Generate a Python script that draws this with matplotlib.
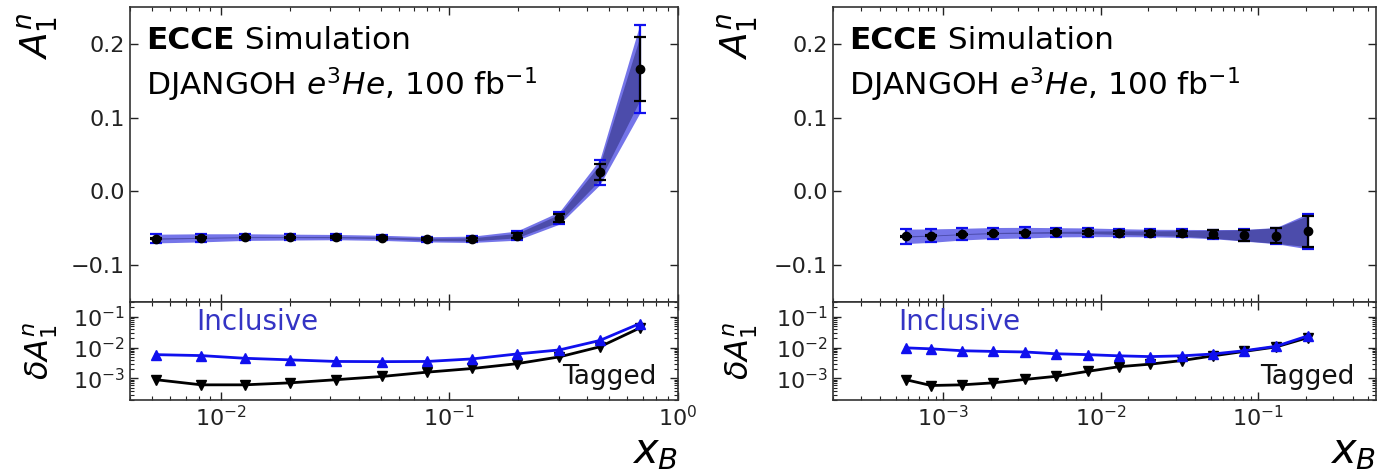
import numpy as np
import matplotlib
matplotlib.use("Agg")
import matplotlib.pyplot as plt
from matplotlib.ticker import FixedLocator, FuncFormatter, LogLocator, NullFormatter

# ---------------- data ----------------
# left panel (x_B bins)
x_left = [0.0052, 0.0082, 0.0127, 0.0201, 0.0319, 0.0508, 0.080, 0.126, 0.197, 0.303, 0.455, 0.68]
a1_left = [-0.064, -0.063, -0.062, -0.062, -0.062, -0.063, -0.065, -0.065, -0.060, -0.036, 0.026, 0.166]
dA_incl_left = [5.9e-3, 5.5e-3, 4.5e-3, 4.0e-3, 3.55e-3, 3.5e-3, 3.55e-3, 4.3e-3, 6.2e-3, 8.4e-3, 0.017, 0.060]
dA_tag_left = [9.1e-4, 6.2e-4, 6.2e-4, 7.2e-4, 9.1e-4, 1.16e-3, 1.6e-3, 2.1e-3, 3.0e-3, 5.0e-3, 0.0106, 0.043]

# right panel
x_right = [5.8e-4, 8.4e-4, 1.32e-3, 2.08e-3, 3.32e-3, 5.2e-3, 8.3e-3, 0.0131, 0.0206, 0.0329, 0.0518, 0.0815, 0.130, 0.207]
a1_right = [-0.061, -0.060, -0.058, -0.0565, -0.056, -0.0555, -0.0555, -0.056, -0.0565, -0.057, -0.058, -0.0595, -0.060, -0.054]
dA_incl_right = [9.8e-3, 9.1e-3, 7.9e-3, 7.5e-3, 7.2e-3, 6.3e-3, 5.9e-3, 5.4e-3, 5.1e-3, 5.4e-3, 6.2e-3, 7.9e-3, 0.011, 0.024]
dA_tag_right = [9.1e-4, 5.9e-4, 6.2e-4, 7.2e-4, 9.3e-4, 1.17e-3, 1.7e-3, 2.4e-3, 2.9e-3, 3.8e-3, 5.4e-3, 7.5e-3, 0.0105, 0.021]

panels = [
    dict(x=x_left, a=a1_left, di=dA_incl_left, dt=dA_tag_left, xlim=(0.004, 1.0)),
    dict(x=x_right, a=a1_right, di=dA_incl_right, dt=dA_tag_right, xlim=(2.0e-4, 0.56)),
]

title1 = "ECCE"
title2 = " Simulation"
subtitle = r"DJANGOH $e^3He$, 100 fb$^{-1}$"
y_ticks_top = [-0.1, 0.0, 0.1, 0.2]

# ---------------- figure ----------------
plt.rcParams['font.family'] = ['DejaVu Sans']
plt.rcParams['mathtext.fontset'] = 'dejavusans'
W, H = 1377, 471
fig = plt.figure(figsize=(W / 100, H / 100), dpi=100)

def frac(x0, y0, x1, y1):
    return [x0 / W, 1 - y1 / H, (x1 - x0) / W, (y1 - y0) / H]

boxes = [
    (frac(130, 7, 678, 302), frac(130, 302, 678, 400)),
    (frac(833, 7, 1376, 302), frac(833, 302, 1376, 400)),
]

blue = '#1010ee'
band_blue = '#3a3ae0'
text_blue = '#3434c4'
tick_fs = 16
fs_title = 22.5

def fmt_top(v, pos):
    return ('%.1f' % v).replace('-', '\u2212')

for p, (bt, bb) in zip(panels, boxes):
    ax = fig.add_axes(bt)
    axb = fig.add_axes(bb, sharex=ax)
    x = np.array(p['x']); a = np.array(p['a'])
    di = np.array(p['di']); dt = np.array(p['dt'])

    # bands
    ax.fill_between(x, a - di, a + di, color=band_blue, alpha=0.7, lw=0, zorder=1)
    ax.fill_between(x, a - dt, a + dt, color='#1a1a60', alpha=0.45, lw=0, zorder=2)
    # error bars
    ax.errorbar(x, a, yerr=di, fmt='none', ecolor=blue, elinewidth=1.6, capsize=4, capthick=1.6, zorder=3)
    ax.errorbar(x, a, yerr=dt, fmt='o', color='black', ms=6, ecolor='black', elinewidth=1.6,
                capsize=4, capthick=1.6, zorder=4)

    ax.set_xscale('log')
    ax.set_xlim(*p['xlim'])
    ax.set_ylim(-0.15, 0.25)
    ax.yaxis.set_major_locator(FixedLocator(y_ticks_top))
    ax.yaxis.set_major_formatter(FuncFormatter(fmt_top))
    ax.tick_params(axis='x', which='both', labelbottom=False)
    ax.set_ylabel(r'$A_1^n$', fontsize=27)

    t = ax.text(0.03, 0.935, title1, transform=ax.transAxes, fontsize=fs_title, fontweight='bold',
                va='top', ha='left')
    fig.canvas.draw()
    bbox = t.get_window_extent()
    inv = ax.transAxes.inverted()
    xr = inv.transform((bbox.x1, bbox.y1))[0]
    ax.text(xr, 0.935, title2, transform=ax.transAxes, fontsize=fs_title, va='top', ha='left')
    ax.text(0.03, 0.80, subtitle, transform=ax.transAxes, fontsize=fs_title, va='top', ha='left')

    # bottom panel
    axb.plot(x, di, '-^', color=blue, ms=7, lw=2, zorder=3)
    axb.plot(x, dt, '-v', color='black', ms=7, lw=2, zorder=2)
    axb.set_yscale('log')
    axb.set_ylim(2.0e-4, 0.3)
    axb.yaxis.set_major_locator(LogLocator(base=10, numticks=10))
    axb.yaxis.set_minor_locator(LogLocator(base=10, subs=np.arange(2, 10) * 1.0, numticks=10))
    axb.yaxis.set_minor_formatter(NullFormatter())
    axb.set_ylabel(r'$\delta A_1^n$', fontsize=23)
    axb.set_xlabel(r'$x_B$', fontsize=30, loc='right', labelpad=0)
    axb.text(0.12, 0.80, 'Inclusive', transform=axb.transAxes, fontsize=20, color=text_blue, va='center')
    axb.text(0.96, 0.23, 'Tagged', transform=axb.transAxes, fontsize=19, color='#111111', va='center', ha='right')

    for axx in (ax, axb):
        axx.tick_params(which='both', direction='in', top=True, right=True, labelsize=tick_fs, colors='#222222')
        axx.tick_params(which='major', length=6, width=1.0)
        axx.tick_params(which='minor', length=3, width=0.8)
        for s in axx.spines.values():
            s.set_linewidth(1.2)
            s.set_color('#333333')

    w_ax = bt[2] * W
    xc = -(p is panels[0] and 70 or 73) / w_ax
    ax.yaxis.set_label_coords(xc, 0.90)
    axb.yaxis.set_label_coords(xc, 0.5)

fig.savefig('out.png', dpi=100)
